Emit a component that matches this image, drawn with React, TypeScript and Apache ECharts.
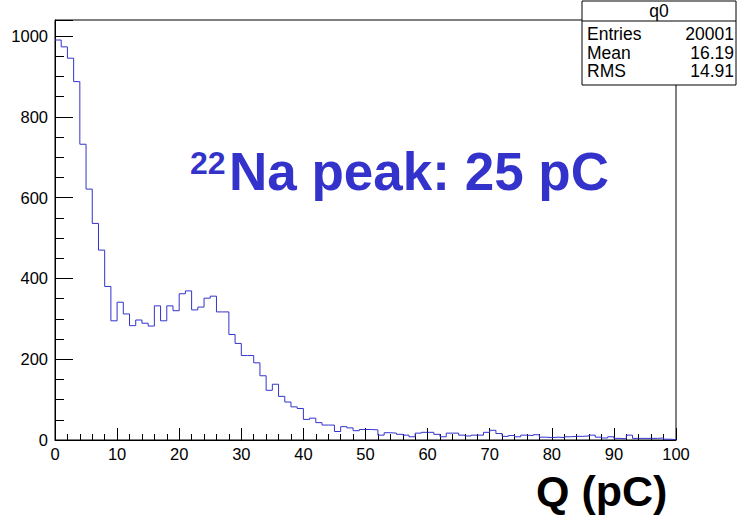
import React, { useEffect, useRef } from 'react';
import * as echarts from 'echarts';

// Histogram q0: 100 bins of 1 pC from 0 to 100 pC
const binWidth = 1;
const counts = [
  990, 973, 945, 887, 732, 621, 536, 470, 380, 295,
  341, 312, 283, 297, 289, 282, 332, 295, 332, 320,
  362, 369, 322, 329, 351, 356, 317, 317, 261, 239,
  209, 209, 191, 159, 123, 138, 108, 94, 82, 78,
  51, 54, 43, 37, 37, 21, 33, 30, 23, 26,
  26, 25, 12, 18, 17, 14, 12, 8, 17, 19,
  19, 14, 8, 17, 17, 12, 10, 12, 12, 19,
  24, 16, 9, 11, 8, 12, 11, 13, 7, 6,
  7, 6, 8, 9, 9, 10, 12, 7, 5, 8,
  4, 3, 12, 4, 4, 4, 4, 5, 2, 1,
];

const histName = 'q0';
const statsLabels = ['Entries', 'Mean', 'RMS'];
const statsValues = ['20001', '16.19', '14.91'];
const annotationSup = '22';
const annotationMain = 'Na peak: 25 pC';
const xTitle = 'Q (pC)';

const FONT = '"Liberation Sans", Arial, Helvetica, sans-serif';

export default function App() {
  const ref = useRef<HTMLDivElement>(null);

  useEffect(() => {
    const chart = echarts.init(ref.current!, null, { renderer: 'svg' });
    const pts: number[][] = counts.map((c, i) => [i * binWidth, c]);
    pts.push([counts.length * binWidth, counts[counts.length - 1]]);
    const yMax = Math.max(...counts) * 1.05;

    const statRows: any[] = [];
    statsLabels.forEach((lab, i) => {
      const y = 34 + i * 18.5;
      statRows.push({
        type: 'text', x: 587, y,
        style: { text: lab, fontSize: 17.5, fontFamily: FONT, fill: '#000', align: 'left', verticalAlign: 'middle' },
      });
      statRows.push({
        type: 'text', x: 734, y,
        style: { text: statsValues[i], fontSize: 17.5, fontFamily: FONT, fill: '#000', align: 'right', verticalAlign: 'middle' },
      });
    });

    chart.setOption({
      animation: false,
      backgroundColor: '#fff',
      grid: {
        left: 55, right: 69, top: 20, bottom: 79,
        show: true, borderColor: '#000', borderWidth: 1, backgroundColor: 'transparent',
      },
      xAxis: {
        type: 'value', min: 0, max: 100, interval: 10,
        axisLine: { show: true, onZero: false, lineStyle: { color: '#000', width: 1 } },
        axisTick: { show: true, inside: true, length: 12, lineStyle: { color: '#000', width: 1 } },
        minorTick: { show: true, splitNumber: 5, length: 6, lineStyle: { color: '#000', width: 1 } },
        splitLine: { show: false },
        minorSplitLine: { show: false },
        axisLabel: { color: '#000', fontSize: 16.5, fontFamily: FONT, margin: 5 },
      },
      yAxis: {
        type: 'value', min: 0, max: yMax, interval: 200,
        axisLine: { show: true, lineStyle: { color: '#000', width: 1 } },
        axisTick: { show: true, inside: true, length: 18, lineStyle: { color: '#000', width: 1 } },
        minorTick: { show: true, splitNumber: 4, length: 9, lineStyle: { color: '#000', width: 1 } },
        splitLine: { show: false },
        minorSplitLine: { show: false },
        axisLabel: {
          color: '#000', fontSize: 16.5, fontFamily: FONT, margin: 7,
          formatter: (v: number) => (Math.abs(v % 200) < 1e-6 ? String(v) : ''),
        },
      },
      series: [
        {
          type: 'line', step: 'end', data: pts, symbol: 'none', clip: true,
          lineStyle: { color: '#3333cc', width: 1 },
        },
      ],
      graphic: [
        {
          type: 'rect', shape: { x: 582, y: 1, width: 154, height: 84 },
          style: { fill: '#fff', stroke: '#000', lineWidth: 1 },
        },
        { type: 'line', shape: { x1: 582, y1: 21, x2: 736, y2: 21 }, style: { stroke: '#000', lineWidth: 1 } },
        {
          type: 'text', x: 659, y: 11,
          style: { text: histName, fontSize: 17.5, fontFamily: FONT, fill: '#000', align: 'center', verticalAlign: 'middle' },
        },
        ...statRows,
        {
          type: 'text', x: 190, y: 163,
          style: { text: annotationSup, fontSize: 32, fontWeight: 'bold', fontFamily: FONT, fill: '#3333cc', align: 'left', verticalAlign: 'middle' },
        },
        {
          type: 'text', x: 229, y: 171,
          style: { text: annotationMain, fontSize: 53, fontWeight: 'bold', fontFamily: FONT, fill: '#3333cc', align: 'left', verticalAlign: 'middle' },
        },
        {
          type: 'text', x: 536, y: 491,
          style: { text: xTitle, fontSize: 43, fontWeight: 'bold', fontFamily: FONT, fill: '#000', align: 'left', verticalAlign: 'middle' },
        },
      ],
    });
    return () => chart.dispose();
  }, []);

  return <div ref={ref} style={{ position: 'absolute', left: 0, top: 0, width: 745, height: 519 }} />;
}
